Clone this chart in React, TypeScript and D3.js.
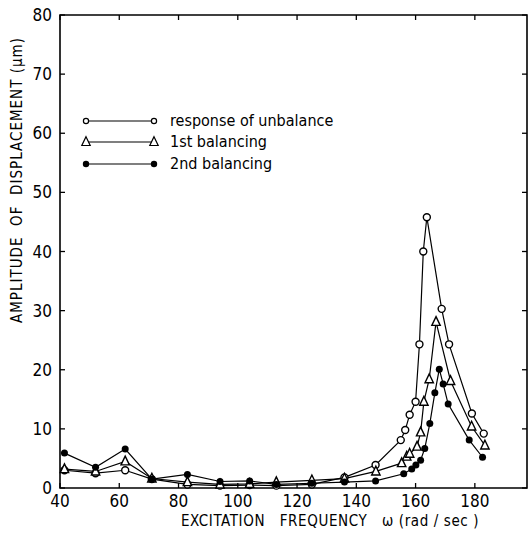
import React from "react";
import * as d3 from "d3";

const xTicks = [40, 60, 80, 100, 120, 140, 160, 180];
const yTicks = [0, 10, 20, 30, 40, 50, 60, 70, 80];

const unbalanceX = [41.5, 52, 62, 71, 83, 94, 104, 113, 125, 136, 146.5, 155, 156.5, 158, 160, 161.3, 162.6, 163.8, 168.8, 171.3, 179, 183];
const unbalanceY = [3.0, 2.5, 3.0, 1.5, 0.6, 0.4, 0.5, 0.4, 0.6, 1.8, 3.9, 8.1, 9.8, 12.4, 14.6, 24.3, 40, 45.8, 30.3, 24.3, 12.6, 9.2];

const firstX = [41.5, 52, 62, 71, 83, 94, 104, 113, 125, 136, 146.6, 155.3, 157, 158, 160.5, 161.7, 162.8, 164.6, 166.9, 171.8, 178.9, 183.4];
const firstY = [3.2, 2.8, 4.5, 1.6, 1.0, 0.6, 0.7, 1.0, 1.3, 1.6, 2.8, 4.2, 5.3, 5.8, 7.0, 9.4, 14.6, 18.4, 28.1, 18.1, 10.4, 7.2];

const secondX = [41.5, 52, 62, 71, 83, 94, 104, 113, 125, 136, 146.5, 156, 158.7, 160.1, 161.7, 163.1, 164.8, 166.5, 168, 169.3, 171, 178.1, 182.6];
const secondY = [5.9, 3.5, 6.6, 1.5, 2.3, 1.1, 1.2, 0.6, 0.8, 1.0, 1.2, 2.4, 3.2, 3.9, 4.7, 6.7, 10.9, 16.1, 20.1, 17.6, 14.2, 8.1, 5.2];

const legendLabels = ["response of unbalance", "1st balancing", "2nd balancing"];

const FONT = "'DejaVu Sans Condensed', 'Liberation Sans', sans-serif";

export default function App() {
  const left = 60, right = 527, top = 15, bottom = 488;
  const x = d3.scaleLinear().domain([40, 197.6]).range([left, right]);
  const y = d3.scaleLinear().domain([0, 80]).range([bottom, top]);
  const line = d3.line<[number, number]>().x(d => x(d[0])).y(d => y(d[1]));

  const s1 = unbalanceX.map((v, i) => [v, unbalanceY[i]] as [number, number]);
  const s2 = firstX.map((v, i) => [v, firstY[i]] as [number, number]);
  const s3 = secondX.map((v, i) => [v, secondY[i]] as [number, number]);

  const tri = (cx: number, cy: number, s: number) =>
    `M${cx},${cy - s * 0.75} L${cx + s * 0.6},${cy + s * 0.5} L${cx - s * 0.6},${cy + s * 0.5} Z`;

  const legendY = [121, 142, 164];

  return (
    <svg width={529} height={538} style={{ position: "absolute", left: 0, top: 0, background: "#fff" }}>
      <rect x={0} y={0} width={529} height={538} fill="#fff" />
      <path d={`M${left},${top} L${right},${top} L${right},${bottom} L${left},${bottom} Z`} fill="none" stroke="#000" strokeWidth={1.6} />
      {yTicks.map(t => (
        <g key={"y" + t}>
          <line x1={left} x2={left + 5} y1={y(t)} y2={y(t)} stroke="#000" strokeWidth={1.3} />
          <line x1={right} x2={right - 5} y1={y(t)} y2={y(t)} stroke="#000" strokeWidth={1.3} />
          <text x={left - 8} y={y(t) + 6} textAnchor="end" fontSize={17} fontFamily={FONT}>{t}</text>
        </g>
      ))}
      {xTicks.map(t => (
        <g key={"x" + t}>
          <line x1={x(t)} x2={x(t)} y1={bottom} y2={bottom - 5} stroke="#000" strokeWidth={1.3} />
          <line x1={x(t)} x2={x(t)} y1={top} y2={top + 5} stroke="#000" strokeWidth={1.3} />
          <text x={x(t)} y={bottom + 19} textAnchor="middle" fontSize={17} fontFamily={FONT}>{t}</text>
        </g>
      ))}
      <text x={330} y={526} textAnchor="middle" fontSize={15} letterSpacing={0.6} fontFamily={FONT}>
        EXCITATION{"\u00a0\u00a0\u00a0"}FREQUENCY{"\u00a0\u00a0\u00a0"}ω (rad / sec )
      </text>
      <text transform={`translate(22,180) rotate(-90)`} textAnchor="middle" fontSize={15} letterSpacing={1} fontFamily={FONT}>
        AMPLITUDE{"\u00a0\u00a0"}OF{"\u00a0\u00a0"}DISPLACEMENT{"\u00a0"}(μm)
      </text>

      <path d={line(s1) || ""} fill="none" stroke="#000" strokeWidth={1.2} />
      <path d={line(s2) || ""} fill="none" stroke="#000" strokeWidth={1.2} />
      <path d={line(s3) || ""} fill="none" stroke="#000" strokeWidth={1.2} />
      {s1.map((d, i) => (
        <circle key={"a" + i} cx={x(d[0])} cy={y(d[1])} r={3.5} fill="#fff" stroke="#000" strokeWidth={1.4} />
      ))}
      {s2.map((d, i) => (
        <path key={"b" + i} d={tri(x(d[0]), y(d[1]), 7)} fill="#fff" stroke="#000" strokeWidth={1.4} />
      ))}
      {s3.map((d, i) => (
        <circle key={"c" + i} cx={x(d[0])} cy={y(d[1])} r={3.5} fill="#000" />
      ))}

      {legendLabels.map((lab, i) => (
        <g key={"l" + i}>
          <line x1={86} x2={154} y1={legendY[i]} y2={legendY[i]} stroke="#000" strokeWidth={1.2} />
          {i === 0 && (
            <>
              <circle cx={86} cy={legendY[i]} r={2.6} fill="#fff" stroke="#000" strokeWidth={1.2} />
              <circle cx={154} cy={legendY[i]} r={2.6} fill="#fff" stroke="#000" strokeWidth={1.2} />
            </>
          )}
          {i === 1 && (
            <>
              <path d={tri(86, legendY[i], 7)} fill="#fff" stroke="#000" strokeWidth={1.2} />
              <path d={tri(154, legendY[i], 7)} fill="#fff" stroke="#000" strokeWidth={1.2} />
            </>
          )}
          {i === 2 && (
            <>
              <circle cx={86} cy={legendY[i]} r={3.2} fill="#000" />
              <circle cx={154} cy={legendY[i]} r={3.2} fill="#000" />
            </>
          )}
          <text x={170} y={legendY[i] + 5} fontSize={16} fontFamily={FONT}>{lab}</text>
        </g>
      ))}
    </svg>
  );
}
